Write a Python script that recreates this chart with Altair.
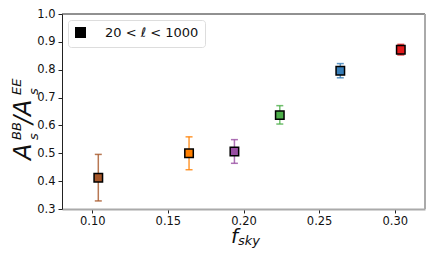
import altair as alt
import pandas as pd

groups = ["g1", "g2", "g3", "g4", "g5", "g6"]
fsky = [0.104, 0.164, 0.194, 0.224, 0.264, 0.304]
ratio = [0.412, 0.500, 0.506, 0.637, 0.796, 0.872]
err_lo = [0.329, 0.441, 0.464, 0.605, 0.771, 0.853]
err_hi = [0.496, 0.559, 0.549, 0.671, 0.822, 0.891]
colors = ["#a65628", "#ff7f00", "#984ea3", "#4daf4a", "#377eb8", "#e41a1c"]
legend_label = "20 < ℓ < 1000"
x_ticks = [0.10, 0.15, 0.20, 0.25, 0.30]
y_ticks = [0.3, 0.4, 0.5, 0.6, 0.7, 0.8, 0.9, 1.0]

df = pd.DataFrame({"grp": groups, "fsky": fsky, "ratio": ratio,
                   "lo": err_lo, "hi": err_hi, "lab": [legend_label] * len(groups)})

W, H = 363, 195
FONT = "DejaVu Sans"

xs = alt.Scale(domain=[0.08, 0.32], nice=False, zero=False)
ys = alt.Scale(domain=[0.3, 1.0], nice=False, zero=False)
cs = alt.Scale(domain=groups, range=colors)

xaxis = alt.Axis(values=x_ticks, format=".2f", title=None, labelOverlap=False,
                 domainColor="#aaaaaa", domainWidth=2, tickColor="#222222", tickSize=4,
                 labelPadding=2, labelFontSize=11.5, labelColor="#111111", labelFont=FONT, grid=False)
yaxis = alt.Axis(values=y_ticks, format=".1f", title=None, labelOverlap=False,
                 domainColor="#222222", domainWidth=1, tickColor="#222222", tickSize=4,
                 labelPadding=3, labelFontSize=11.5, labelColor="#111111", labelFont=FONT, grid=False)

base = alt.Chart(df)
color = alt.Color("grp:N", scale=cs, legend=None)

bars = base.mark_rule(strokeWidth=1.5, opacity=0.8).encode(
    x=alt.X("fsky:Q", scale=xs, axis=xaxis),
    y=alt.Y("lo:Q", scale=ys, axis=yaxis), y2="hi:Q", color=color)
cap_lo = base.mark_tick(orient="horizontal", size=7, thickness=1.5, opacity=0.8).encode(
    x=alt.X("fsky:Q", scale=xs, axis=xaxis), y=alt.Y("lo:Q", scale=ys, axis=yaxis), color=color)
cap_hi = base.mark_tick(orient="horizontal", size=7, thickness=1.5, opacity=0.8).encode(
    x=alt.X("fsky:Q", scale=xs, axis=xaxis), y=alt.Y("hi:Q", scale=ys, axis=yaxis), color=color)
pts = base.mark_point(filled=True, size=72, stroke="black", strokeWidth=1.5, opacity=1).encode(
    x=alt.X("fsky:Q", scale=xs, axis=xaxis), y=alt.Y("ratio:Q", scale=ys, axis=yaxis),
    fill=alt.Fill("grp:N", scale=cs, legend=None),
    shape=alt.Shape("lab:N", scale=alt.Scale(range=["square"]),
                    legend=alt.Legend(title=None, orient="top-left", offset=6,
                                      symbolFillColor="black", symbolStrokeColor="black",
                                      symbolSize=90, labelFontSize=13, labelFont=FONT,
                                      labelColor="#111111", labelOffset=18, padding=6,
                                      strokeColor="#dddddd", fillColor="white",
                                      cornerRadius=3)))

one = pd.DataFrame({"t": [0]})
def txt(s, x, y, size):
    return alt.Chart(one).mark_text(text=s, font=FONT, fontSize=size, fontStyle="italic",
                                    angle=270, align="left", baseline="alphabetic",
                                    color="#111111").encode(x=alt.value(x), y=alt.value(y))
def htxt(s, x, y, size):
    return alt.Chart(one).mark_text(text=s, font=FONT, fontSize=size, fontStyle="italic",
                                    align="left", baseline="alphabetic",
                                    color="#111111").encode(x=alt.value(x), y=alt.value(y))

titles = [
    txt("A", -31, 146, 24),
    txt("BB", -41, 126, 13),
    txt("s", -24, 126, 13),
    txt("/A", -31, 110, 24),
    txt("EE", -41, 81, 13),
    txt("s", -24, 81, 13),
    htxt("f", 169, 229, 20),
    htxt("sky", 176, 231, 13),
]

top = alt.Chart(one).mark_rule(color="#222222", strokeWidth=1).encode(
    x=alt.value(0), x2=alt.value(W), y=alt.value(0))
right = alt.Chart(one).mark_rule(color="#aaaaaa", strokeWidth=2).encode(
    x=alt.value(W), y=alt.value(0), y2=alt.value(H))

chart = alt.layer(bars, cap_lo, cap_hi, pts, top, right, *titles).properties(
    width=W, height=H,
    autosize=alt.AutoSizeParams(type="none"),
    padding={"left": 54, "top": 6, "right": 2, "bottom": 40},
).configure_view(stroke=None)

chart.save("out.html", embed_options={"renderer": "svg", "actions": False})
